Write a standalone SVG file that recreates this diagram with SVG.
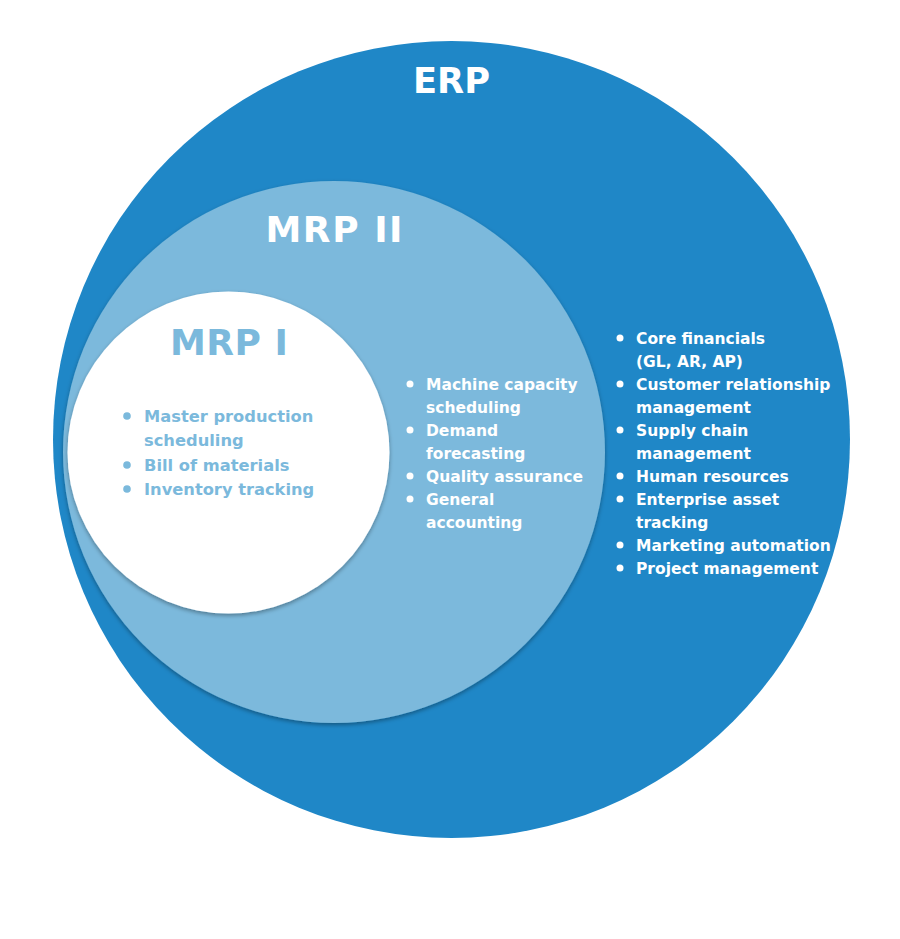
<svg xmlns="http://www.w3.org/2000/svg" width="900" height="939" viewBox="0 0 900 939">
<style>
text{font-family:"DejaVu Sans","Liberation Sans",sans-serif;font-weight:bold}
.title{font-size:36px;text-anchor:middle}
.item{font-size:15.5px;fill:#ffffff}
.item1{font-size:16.3px;fill:#7bb9dc}
.w{fill:#ffffff}
.lb{fill:#7bb9dc}
</style>
<defs>
<filter id="sh" x="-10%" y="-10%" width="120%" height="125%">
<feDropShadow dx="0" dy="2" stdDeviation="2" flood-color="#000" flood-opacity="0.35"/>
</filter>
</defs>
<rect width="900" height="939" fill="#ffffff"/>
<g id="erp">
<circle cx="451.5" cy="439.5" r="398.5" fill="#1f87c7"/>
<text class="title w" x="451.5" y="93" textLength="77" lengthAdjust="spacingAndGlyphs">ERP</text>
<g class="w">
<circle cx="620" cy="338" r="3.5"/><circle cx="620" cy="384" r="3.5"/><circle cx="620" cy="430" r="3.5"/><circle cx="620" cy="476" r="3.5"/><circle cx="620" cy="499" r="3.5"/><circle cx="620" cy="545" r="3.5"/><circle cx="620" cy="568" r="3.5"/>
</g>
<text class="item" x="636" y="344">Core financials</text>
<text class="item" x="636" y="367">(GL, AR, AP)</text>
<text class="item" x="636" y="390">Customer relationship</text>
<text class="item" x="636" y="413">management</text>
<text class="item" x="636" y="436">Supply chain</text>
<text class="item" x="636" y="459">management</text>
<text class="item" x="636" y="482">Human resources</text>
<text class="item" x="636" y="505">Enterprise asset</text>
<text class="item" x="636" y="528">tracking</text>
<text class="item" x="636" y="551">Marketing automation</text>
<text class="item" x="636" y="574">Project management</text>
</g>
<g id="mrp2">
<circle cx="334" cy="452" r="271" fill="#7bb9dc" filter="url(#sh)"/>
<text class="title w" x="334" y="242" textLength="137" lengthAdjust="spacing">MRP II</text>
<g class="w">
<circle cx="410" cy="384" r="3.5"/><circle cx="410" cy="430" r="3.5"/><circle cx="410" cy="476" r="3.5"/><circle cx="410" cy="499" r="3.5"/>
</g>
<text class="item" x="426" y="390">Machine capacity</text>
<text class="item" x="426" y="413">scheduling</text>
<text class="item" x="426" y="436">Demand</text>
<text class="item" x="426" y="459">forecasting</text>
<text class="item" x="426" y="482">Quality assurance</text>
<text class="item" x="426" y="505">General</text>
<text class="item" x="426" y="528">accounting</text>
</g>
<g id="mrp1">
<circle cx="228.5" cy="452.5" r="161" fill="#ffffff" filter="url(#sh)"/>
<text class="title lb" x="229" y="355" textLength="118" lengthAdjust="spacing">MRP I</text>
<g class="lb">
<circle cx="127" cy="416" r="3.8"/><circle cx="127" cy="465" r="3.8"/><circle cx="127" cy="489" r="3.8"/>
</g>
<text class="item1" x="144" y="422">Master production</text>
<text class="item1" x="144" y="446">scheduling</text>
<text class="item1" x="144" y="471">Bill of materials</text>
<text class="item1" x="144" y="495">Inventory tracking</text>
</g>
<g id="connectors"/>
</svg>
